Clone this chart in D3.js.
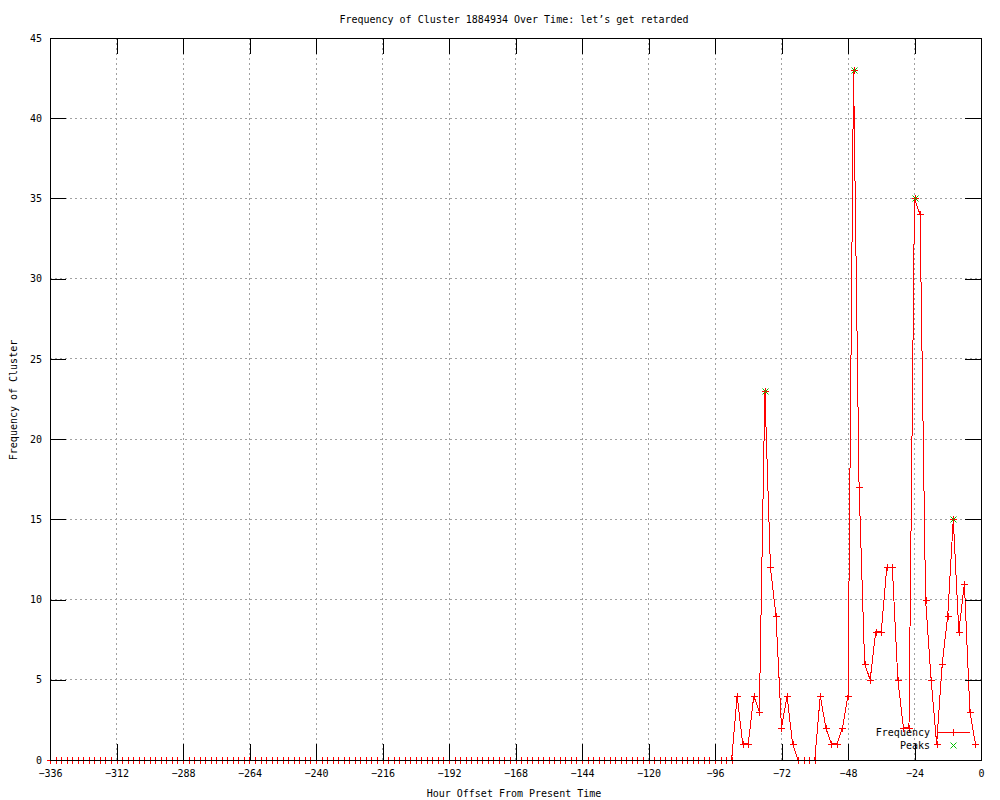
<!DOCTYPE html>
<html>
<head>
<meta charset="utf-8">
<script src="https://cdn.jsdelivr.net/npm/d3@7"></script>
<style>
  body { margin: 0; background: #fff; }
  text { font-family: "DejaVu Sans Mono", monospace; font-size: 10px; fill: #000; }
</style>
</head>
<body>
<div id="chart"></div>
<script>
// hour offsets, one sample every 2 hours
const hours = [
  -336, -334, -332, -330, -328, -326, -324, -322, -320, -318, -316, -314,
  -312, -310, -308, -306, -304, -302, -300, -298, -296, -294, -292, -290,
  -288, -286, -284, -282, -280, -278, -276, -274, -272, -270, -268, -266,
  -264, -262, -260, -258, -256, -254, -252, -250, -248, -246, -244, -242,
  -240, -238, -236, -234, -232, -230, -228, -226, -224, -222, -220, -218,
  -216, -214, -212, -210, -208, -206, -204, -202, -200, -198, -196, -194,
  -192, -190, -188, -186, -184, -182, -180, -178, -176, -174, -172, -170,
  -168, -166, -164, -162, -160, -158, -156, -154, -152, -150, -148, -146,
  -144, -142, -140, -138, -136, -134, -132, -130, -128, -126, -124, -122,
  -120, -118, -116, -114, -112, -110, -108, -106, -104, -102, -100, -98,
  -96, -94, -92, -90, -88, -86, -84, -82, -80, -78, -76, -74,
  -72, -70, -68, -66, -64, -62, -60, -58, -56, -54, -52, -50,
  -48, -46, -44, -42, -40, -38, -36, -34, -32, -30, -28, -26,
  -24, -22, -20, -18, -16, -14, -12, -10, -8, -6, -4, -2
];
const frequency = [
  0, 0, 0, 0, 0, 0, 0, 0, 0, 0, 0, 0,
  0, 0, 0, 0, 0, 0, 0, 0, 0, 0, 0, 0,
  0, 0, 0, 0, 0, 0, 0, 0, 0, 0, 0, 0,
  0, 0, 0, 0, 0, 0, 0, 0, 0, 0, 0, 0,
  0, 0, 0, 0, 0, 0, 0, 0, 0, 0, 0, 0,
  0, 0, 0, 0, 0, 0, 0, 0, 0, 0, 0, 0,
  0, 0, 0, 0, 0, 0, 0, 0, 0, 0, 0, 0,
  0, 0, 0, 0, 0, 0, 0, 0, 0, 0, 0, 0,
  0, 0, 0, 0, 0, 0, 0, 0, 0, 0, 0, 0,
  0, 0, 0, 0, 0, 0, 0, 0, 0, 0, 0, 0,
  0, 0, 0, 0, 4, 1, 1, 4, 3, 23, 12, 9,
  2, 4, 1, 0, 0, 0, 0, 4, 2, 1, 1, 2,
  4, 43, 17, 6, 5, 8, 8, 12, 12, 5, 2, 2,
  35, 34, 10, 5, 1, 6, 9, 15, 8, 11, 3, 1
];
const peakHours = [-78, -46, -24, -10];
const peakValues = [23, 43, 35, 15];

const xTicks = [-336, -312, -288, -264, -240, -216, -192, -168, -144, -120, -96, -72, -48, -24, 0];
const yTicks = [0, 5, 10, 15, 20, 25, 30, 35, 40, 45];

const width = 1000, height = 800;
const margin = { top: 38, right: 19, bottom: 40, left: 50 };
const tickLen = 16;

const svg = d3.select('#chart').append('svg')
  .attr('width', width)
  .attr('height', height);

const x = d3.scaleLinear().domain([-336, 0]).range([margin.left, width - margin.right]);
const y = d3.scaleLinear().domain([0, 45]).range([height - margin.bottom, margin.top]);

// grid
const grid = svg.append('g')
  .attr('stroke', '#a0a0a0')
  .attr('stroke-dasharray', '2,3')
  .attr('shape-rendering', 'crispEdges');
grid.selectAll('.gx').data(xTicks).enter().append('line')
  .attr('x1', d => x(d)).attr('x2', d => x(d))
  .attr('y1', y(0)).attr('y2', y(45));
grid.selectAll('.gy').data(yTicks).enter().append('line')
  .attr('x1', x(-336)).attr('x2', x(0))
  .attr('y1', d => y(d)).attr('y2', d => y(d));

// frequency line + points
const pts = hours.map((h, i) => ({ h: h, v: frequency[i] }));
const line = d3.line().x(d => x(d.h)).y(d => y(d.v));

svg.append('path')
  .datum(pts)
  .attr('d', line)
  .attr('fill', 'none')
  .attr('stroke', '#ff0000')
  .attr('stroke-width', 1)
  .attr('shape-rendering', 'crispEdges');

const plusPath = 'M-3.5,0H3.5M0,-3.5V3.5';
const crossPath = 'M-3,-3L3,3M-3,3L3,-3';

svg.append('g').selectAll('path')
  .data(pts).enter().append('path')
  .attr('transform', d => `translate(${Math.round(x(d.h)) + 0.5},${Math.round(y(d.v)) + 0.5})`)
  .attr('d', plusPath)
  .attr('stroke', '#ff0000')
  .attr('fill', 'none');

// peaks
svg.append('g').selectAll('path')
  .data(peakHours.map((h, i) => ({ h: h, v: peakValues[i] }))).enter().append('path')
  .attr('transform', d => `translate(${Math.round(x(d.h)) + 0.5},${Math.round(y(d.v)) + 0.5})`)
  .attr('d', crossPath)
  .attr('stroke', '#00c000')
  .attr('fill', 'none');

// axes (ticks point inward, mirrored on top and right)
function styleAxis(g) {
  g.select('.domain').remove();
  g.selectAll('line').attr('stroke', '#000').attr('shape-rendering', 'crispEdges');
  g.selectAll('text').attr('font-family', null).attr('font-size', null);
  g.attr('font-family', null).attr('font-size', null);
}

svg.append('g')
  .attr('transform', `translate(0,${y(0)})`)
  .call(d3.axisBottom(x).tickValues(xTicks).tickSize(-tickLen).tickPadding(10))
  .call(styleAxis);

svg.append('g')
  .attr('transform', `translate(0,${y(45)})`)
  .call(d3.axisTop(x).tickValues(xTicks).tickSize(-tickLen).tickFormat(''))
  .call(styleAxis);

svg.append('g')
  .attr('transform', `translate(${x(-336)},0)`)
  .call(d3.axisLeft(y).tickValues(yTicks).tickSize(-tickLen).tickPadding(8))
  .call(styleAxis);

svg.append('g')
  .attr('transform', `translate(${x(0)},0)`)
  .call(d3.axisRight(y).tickValues(yTicks).tickSize(-tickLen).tickFormat(''))
  .call(styleAxis);

// border
svg.append('rect')
  .attr('x', x(-336) + 0.5).attr('y', y(45) + 0.5)
  .attr('width', x(0) - x(-336)).attr('height', y(0) - y(45))
  .attr('fill', 'none')
  .attr('stroke', '#000')
  .attr('shape-rendering', 'crispEdges');

// titles
svg.append('text')
  .attr('x', 514).attr('y', 23)
  .attr('text-anchor', 'middle')
  .text('Frequency of Cluster 1884934 Over Time: let’s get retarded');

svg.append('text')
  .attr('x', 514).attr('y', 797)
  .attr('text-anchor', 'middle')
  .text('Hour Offset From Present Time');

svg.append('text')
  .attr('transform', 'translate(17,400) rotate(-90)')
  .attr('text-anchor', 'middle')
  .text('Frequency of Cluster');

// legend
const legend = svg.append('g');
legend.append('text')
  .attr('x', 930).attr('y', 736)
  .attr('text-anchor', 'end')
  .text('Frequency');
legend.append('text')
  .attr('x', 930).attr('y', 749)
  .attr('text-anchor', 'end')
  .text('Peaks');
legend.append('line')
  .attr('x1', 937).attr('x2', 970)
  .attr('y1', 732.5).attr('y2', 732.5)
  .attr('stroke', '#ff0000')
  .attr('shape-rendering', 'crispEdges');
legend.append('path')
  .attr('transform', 'translate(953.5,732.5)')
  .attr('d', plusPath)
  .attr('stroke', '#ff0000')
  .attr('fill', 'none');
legend.append('path')
  .attr('transform', 'translate(953.5,745.5)')
  .attr('d', crossPath)
  .attr('stroke', '#00c000')
  .attr('fill', 'none');
</script>
</body>
</html>
